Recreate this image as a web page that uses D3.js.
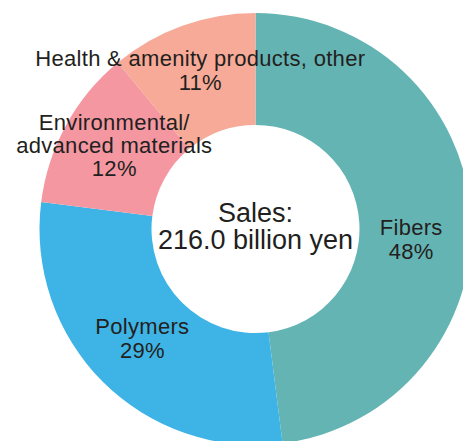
<!DOCTYPE html>
<html>
<head>
<meta charset="utf-8">
<script src="https://cdn.jsdelivr.net/npm/d3@7"></script>
<style>
  body { margin: 0; background: #fff; }
  svg text { font-family: "Liberation Sans", Arial, sans-serif; fill: #231f20; }
</style>
</head>
<body>
<script>
'use strict';

// segment names (label lines), shares in percent, colours
const segments = [
  ["Fibers"],
  ["Polymers"],
  ["Environmental/", "advanced materials"],
  ["Health & amenity products, other"]
];
const shares = [48, 29, 12, 11];
const colors = ["#65b4b4", "#3eb4e6", "#f497a1", "#f7aa97"];
const totalLines = ["Sales:", "216.0 billion yen"];

// layout
const width = 463, height = 441;
const cx = 255.5, cy = 229;
const rOuter = 216, rInner = 104;
// small hand nudges for label blocks, same order as segments
const labelNudge = [[-4, 28], [0, 4], [-1, 1], [-1, 0]];
const lineGap = [23.5, 24, 23, 24];

const svg = d3.select('body')
  .append('svg')
  .attr('width', width)
  .attr('height', height);

const g = svg.append('g')
  .attr('transform', `translate(${cx}, ${cy})`);

const pie = d3.pie().sort(null).value((d) => d);
const arcs = pie(shares);

const arc = d3.arc().innerRadius(rInner).outerRadius(rOuter);

g.selectAll('path')
  .data(arcs)
  .enter()
  .append('path')
  .attr('d', arc)
  .attr('fill', (d, i) => colors[i]);

// labels: name lines + percent, centred on arc centroid
arcs.forEach((d, i) => {
  const c = arc.centroid(d);
  const lines = segments[i].concat([d.data + '%']);
  const x = c[0] + labelNudge[i][0];
  const yMid = c[1] + labelNudge[i][1];
  const y0 = yMid - (lines.length - 1) * lineGap[i] / 2;
  const t = g.append('text')
    .attr('text-anchor', 'middle')
    .style('font-size', '22px')
    .style('letter-spacing', '0.3px');
  lines.forEach((ln, j) => {
    t.append('tspan')
      .attr('x', x)
      .attr('y', y0 + j * lineGap[i])
      .text(ln);
  });
});

// centre text
const ct = g.append('text')
  .attr('text-anchor', 'middle')
  .style('font-size', '27px');
totalLines.forEach((ln, j) => {
  ct.append('tspan')
    .attr('x', 0)
    .attr('y', -7.5 + j * 27.6)
    .text(ln);
});
</script>
</body>
</html>
